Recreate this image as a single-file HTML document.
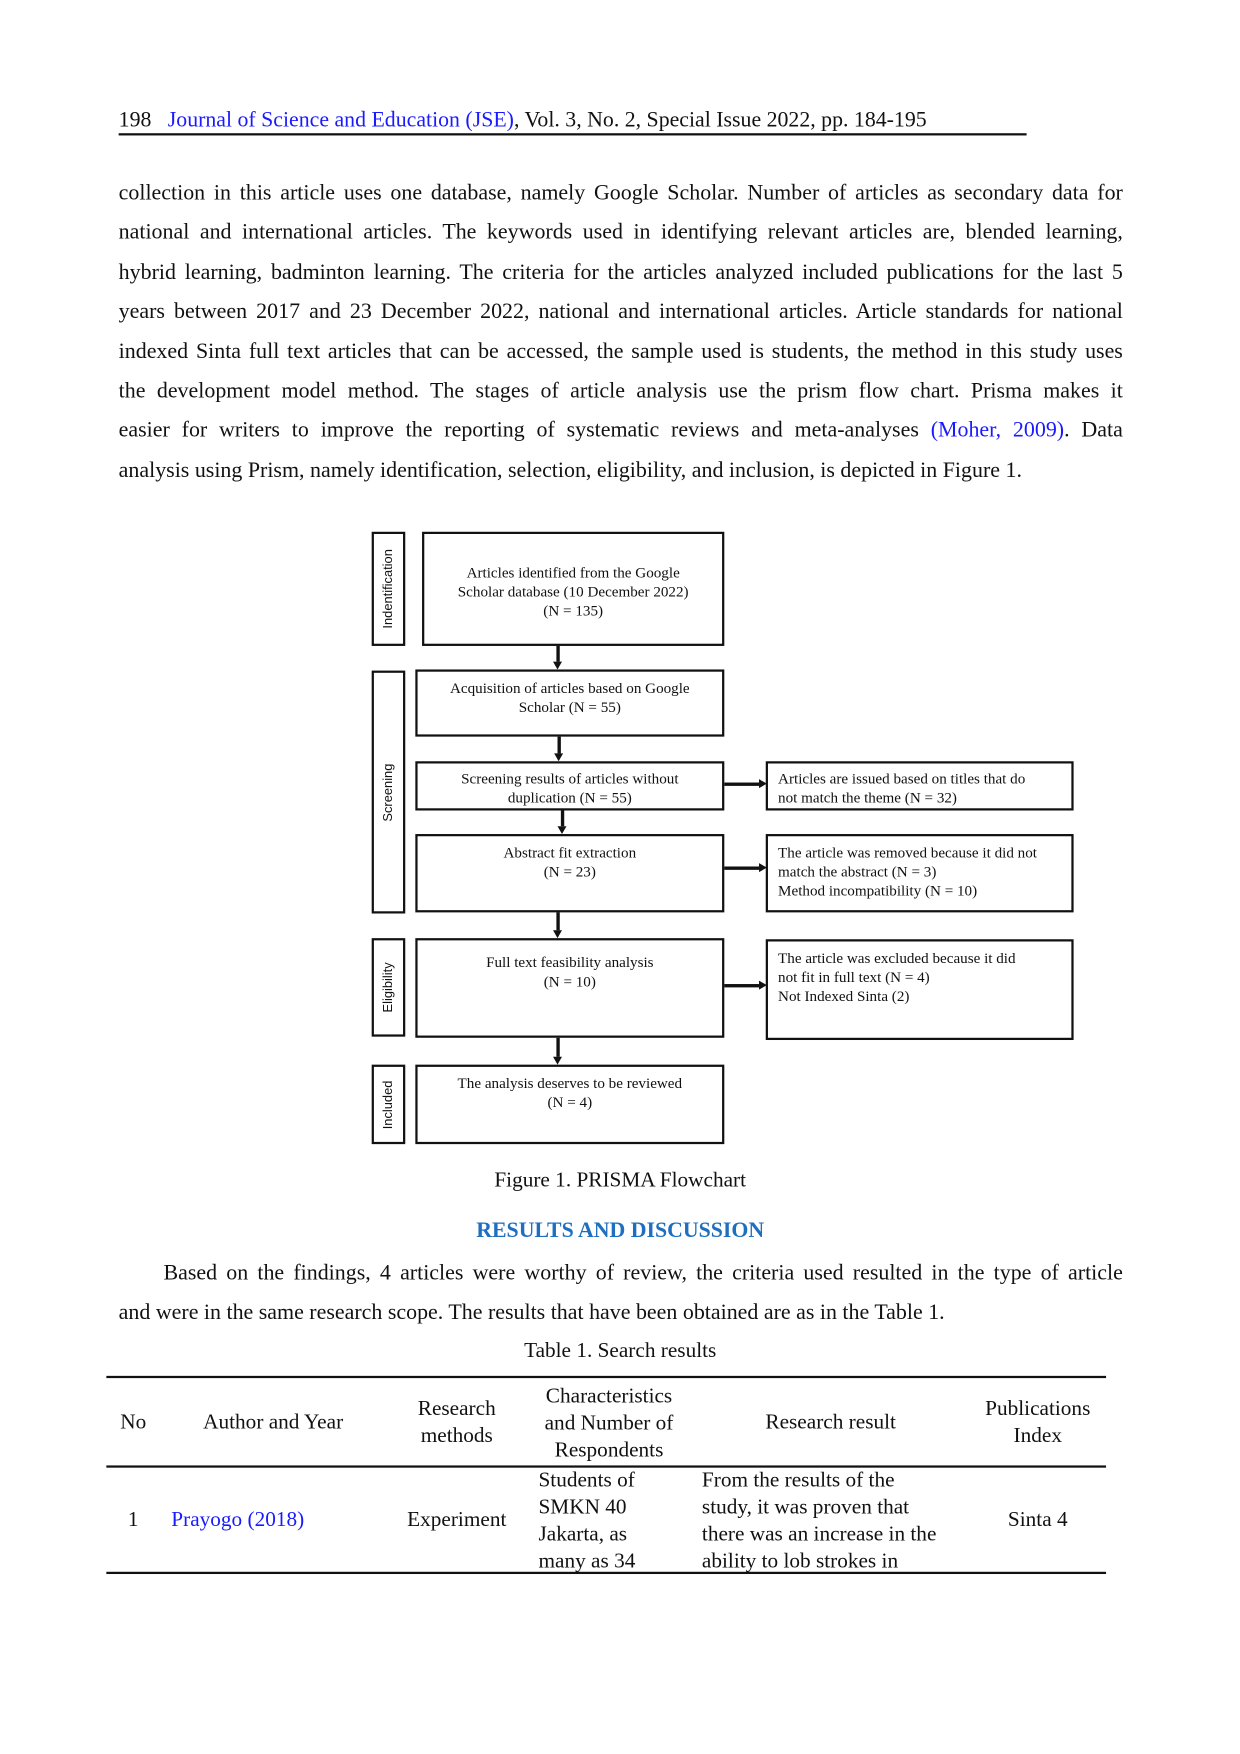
<!DOCTYPE html>
<html><head><meta charset="utf-8"><style>
body{margin:0;background:#fff;}
#pg{position:relative;width:1100px;height:1556px;transform:scale(1.1195);transform-origin:0 0;font-family:"Liberation Serif",serif;color:#111;}
.a{position:absolute;}
.blue{color:#1a1aff;}
.p{position:absolute;left:106px;width:897px;font-size:19.6px;line-height:35.4px;}
.p div{text-align:justify;text-align-last:justify;white-space:nowrap;height:35.4px;}
.p div.l{text-align-last:left;}
.b{position:absolute;border:2.5px solid #111;box-sizing:border-box;font-size:13.5px;line-height:17px;text-align:center;padding-top:0;}
.r{text-align:left;padding-left:9px;}
.s{position:absolute;border:2.5px solid #111;box-sizing:border-box;width:30px;left:332px;}
.s span{position:absolute;left:50%;top:50%;transform:translate(-50%,-50%) rotate(-90deg);font-family:"Liberation Sans",sans-serif;font-size:11.5px;white-space:nowrap;}
.vl{position:absolute;width:2.5px;background:#111;}
.hl{position:absolute;height:2.5px;background:#111;}
.ad{position:absolute;width:0;height:0;border-left:4px solid transparent;border-right:4px solid transparent;border-top:7px solid #111;}
.ar{position:absolute;width:0;height:0;border-top:4px solid transparent;border-bottom:4px solid transparent;border-left:7px solid #111;}
.t{position:absolute;font-size:19px;line-height:24px;text-align:center;}
</style></head><body><div id="pg">
<div class="a" style="left:106px;top:97px;font-size:19.5px;white-space:nowrap">198&nbsp;&nbsp;&nbsp;<span class="blue">Journal of Science and Education (JSE)</span>, Vol. 3, No. 2, Special Issue 2022, pp. 184-195</div>
<div class="a" style="left:106px;top:119px;width:811px;height:1.5px;background:#111"></div>
<div class="p" style="top:155px">
<div>collection in this article uses one database, namely Google Scholar. Number of articles as secondary data for</div>
<div>national and international articles. The keywords used in identifying relevant articles are, blended learning,</div>
<div>hybrid learning, badminton learning. The criteria for the articles analyzed included publications for the last 5</div>
<div>years between 2017 and 23 December 2022, national and international articles. Article standards for national</div>
<div>indexed Sinta full text articles that can be accessed, the sample used is students, the method in this study uses</div>
<div>the development model method. The stages of article analysis use the prism flow chart. Prisma makes it</div>
<div>easier for writers to improve the reporting of systematic reviews and meta-analyses <span class="blue">(Moher, 2009)</span>. Data</div>
<div class="l">analysis using Prism, namely identification, selection, eligibility, and inclusion, is depicted in Figure 1.</div>
</div>

<div class="s" style="top:475px;height:102px"><span>Indentification</span></div>
<div class="s" style="top:599px;height:217px"><span>Screening</span></div>
<div class="s" style="top:838px;height:88px"><span>Eligibility</span></div>
<div class="s" style="top:951px;height:71px"><span>Included</span></div>

<div class="b" style="left:377px;top:475px;width:270px;height:102px;padding-top:26px">Articles identified from the Google<br>Scholar database (10 December 2022)<br>(N = 135)</div>
<div class="b" style="left:371px;top:598px;width:276px;height:60px;padding-top:6px">Acquisition of articles based on Google<br>Scholar (N = 55)</div>
<div class="b" style="left:371px;top:680px;width:276px;height:44px;padding-top:5px">Screening results of articles without<br>duplication (N = 55)</div>
<div class="b" style="left:371px;top:745px;width:276px;height:70px;padding-top:6px">Abstract fit extraction<br>(N = 23)</div>
<div class="b" style="left:371px;top:838px;width:276px;height:89px;padding-top:11px">Full text feasibility analysis<br>(N = 10)</div>
<div class="b" style="left:371px;top:951px;width:276px;height:71px;padding-top:6px">The analysis deserves to be reviewed<br>(N = 4)</div>

<div class="b r" style="left:684px;top:680px;width:275px;height:44px;padding-top:5px">Articles are issued based on titles that do<br>not match the theme (N = 32)</div>
<div class="b r" style="left:684px;top:745px;width:275px;height:70px;padding-top:6px">The article was removed because it did not<br>match the abstract (N = 3)<br>Method incompatibility (N = 10)</div>
<div class="b r" style="left:684px;top:839px;width:275px;height:90px;padding-top:6px">The article was excluded because it did<br>not fit in full text (N = 4)<br>Not Indexed Sinta (2)</div>

<div class="vl" style="left:497px;top:577px;height:14px"></div><div class="ad" style="left:494px;top:591px"></div>
<div class="vl" style="left:498px;top:658px;height:15px"></div><div class="ad" style="left:495px;top:673px"></div>
<div class="vl" style="left:501px;top:724px;height:14px"></div><div class="ad" style="left:498px;top:738px"></div>
<div class="vl" style="left:497px;top:815px;height:16px"></div><div class="ad" style="left:494px;top:831px"></div>
<div class="vl" style="left:497px;top:927px;height:17px"></div><div class="ad" style="left:494px;top:944px"></div>
<div class="hl" style="left:647px;top:699px;width:31px"></div><div class="ar" style="left:678px;top:696px"></div>
<div class="hl" style="left:647px;top:774px;width:31px"></div><div class="ar" style="left:678px;top:771px"></div>
<div class="hl" style="left:647px;top:879px;width:31px"></div><div class="ar" style="left:678px;top:876px"></div>

<div class="a" style="left:0;width:1108px;top:1044px;text-align:center;font-size:19px">Figure 1. PRISMA Flowchart</div>
<div class="a" style="left:0;width:1108px;top:1089px;text-align:center;font-size:19.5px;font-weight:bold;color:#1f6fc0">RESULTS AND DISCUSSION</div>
<div class="p" style="top:1120px">
<div><span style="display:inline-block;width:40px"></span>Based on the findings, 4 articles were worthy of review, the criteria used resulted in the type of article</div>
<div class="l">and were in the same research scope. The results that have been obtained are as in the Table 1.</div>
</div>
<div class="a" style="left:0;width:1108px;top:1196px;text-align:center;font-size:19px">Table 1. Search results</div>

<div class="a" style="left:95px;top:1229px;width:893px;height:1.5px;background:#111"></div>
<div class="a" style="left:95px;top:1309px;width:893px;height:1.5px;background:#111"></div>
<div class="a" style="left:95px;top:1404px;width:893px;height:1.5px;background:#111"></div>

<div class="t" style="left:95px;width:48px;top:1259px">No</div>
<div class="t" style="left:150px;width:188px;top:1259px">Author and Year</div>
<div class="t" style="left:348px;width:120px;top:1247px">Research<br>methods</div>
<div class="t" style="left:470px;width:148px;top:1236px">Characteristics<br>and Number of<br>Respondents</div>
<div class="t" style="left:630px;width:224px;top:1259px">Research result</div>
<div class="t" style="left:860px;width:134px;top:1247px">Publications<br>Index</div>

<div class="t" style="left:95px;width:48px;top:1346px">1</div>
<div class="t blue" style="left:153px;top:1346px;text-align:left">Prayogo (2018)</div>
<div class="t" style="left:348px;width:120px;top:1346px">Experiment</div>
<div class="t" style="left:481px;top:1311px;text-align:left">Students of<br>SMKN 40<br>Jakarta, as<br>many as 34</div>
<div class="t" style="left:627px;top:1311px;text-align:left">From the results of the<br>study, it was proven that<br>there was an increase in the<br>ability to lob strokes in</div>
<div class="t" style="left:860px;width:134px;top:1346px">Sinta 4</div>
</div></body></html>
